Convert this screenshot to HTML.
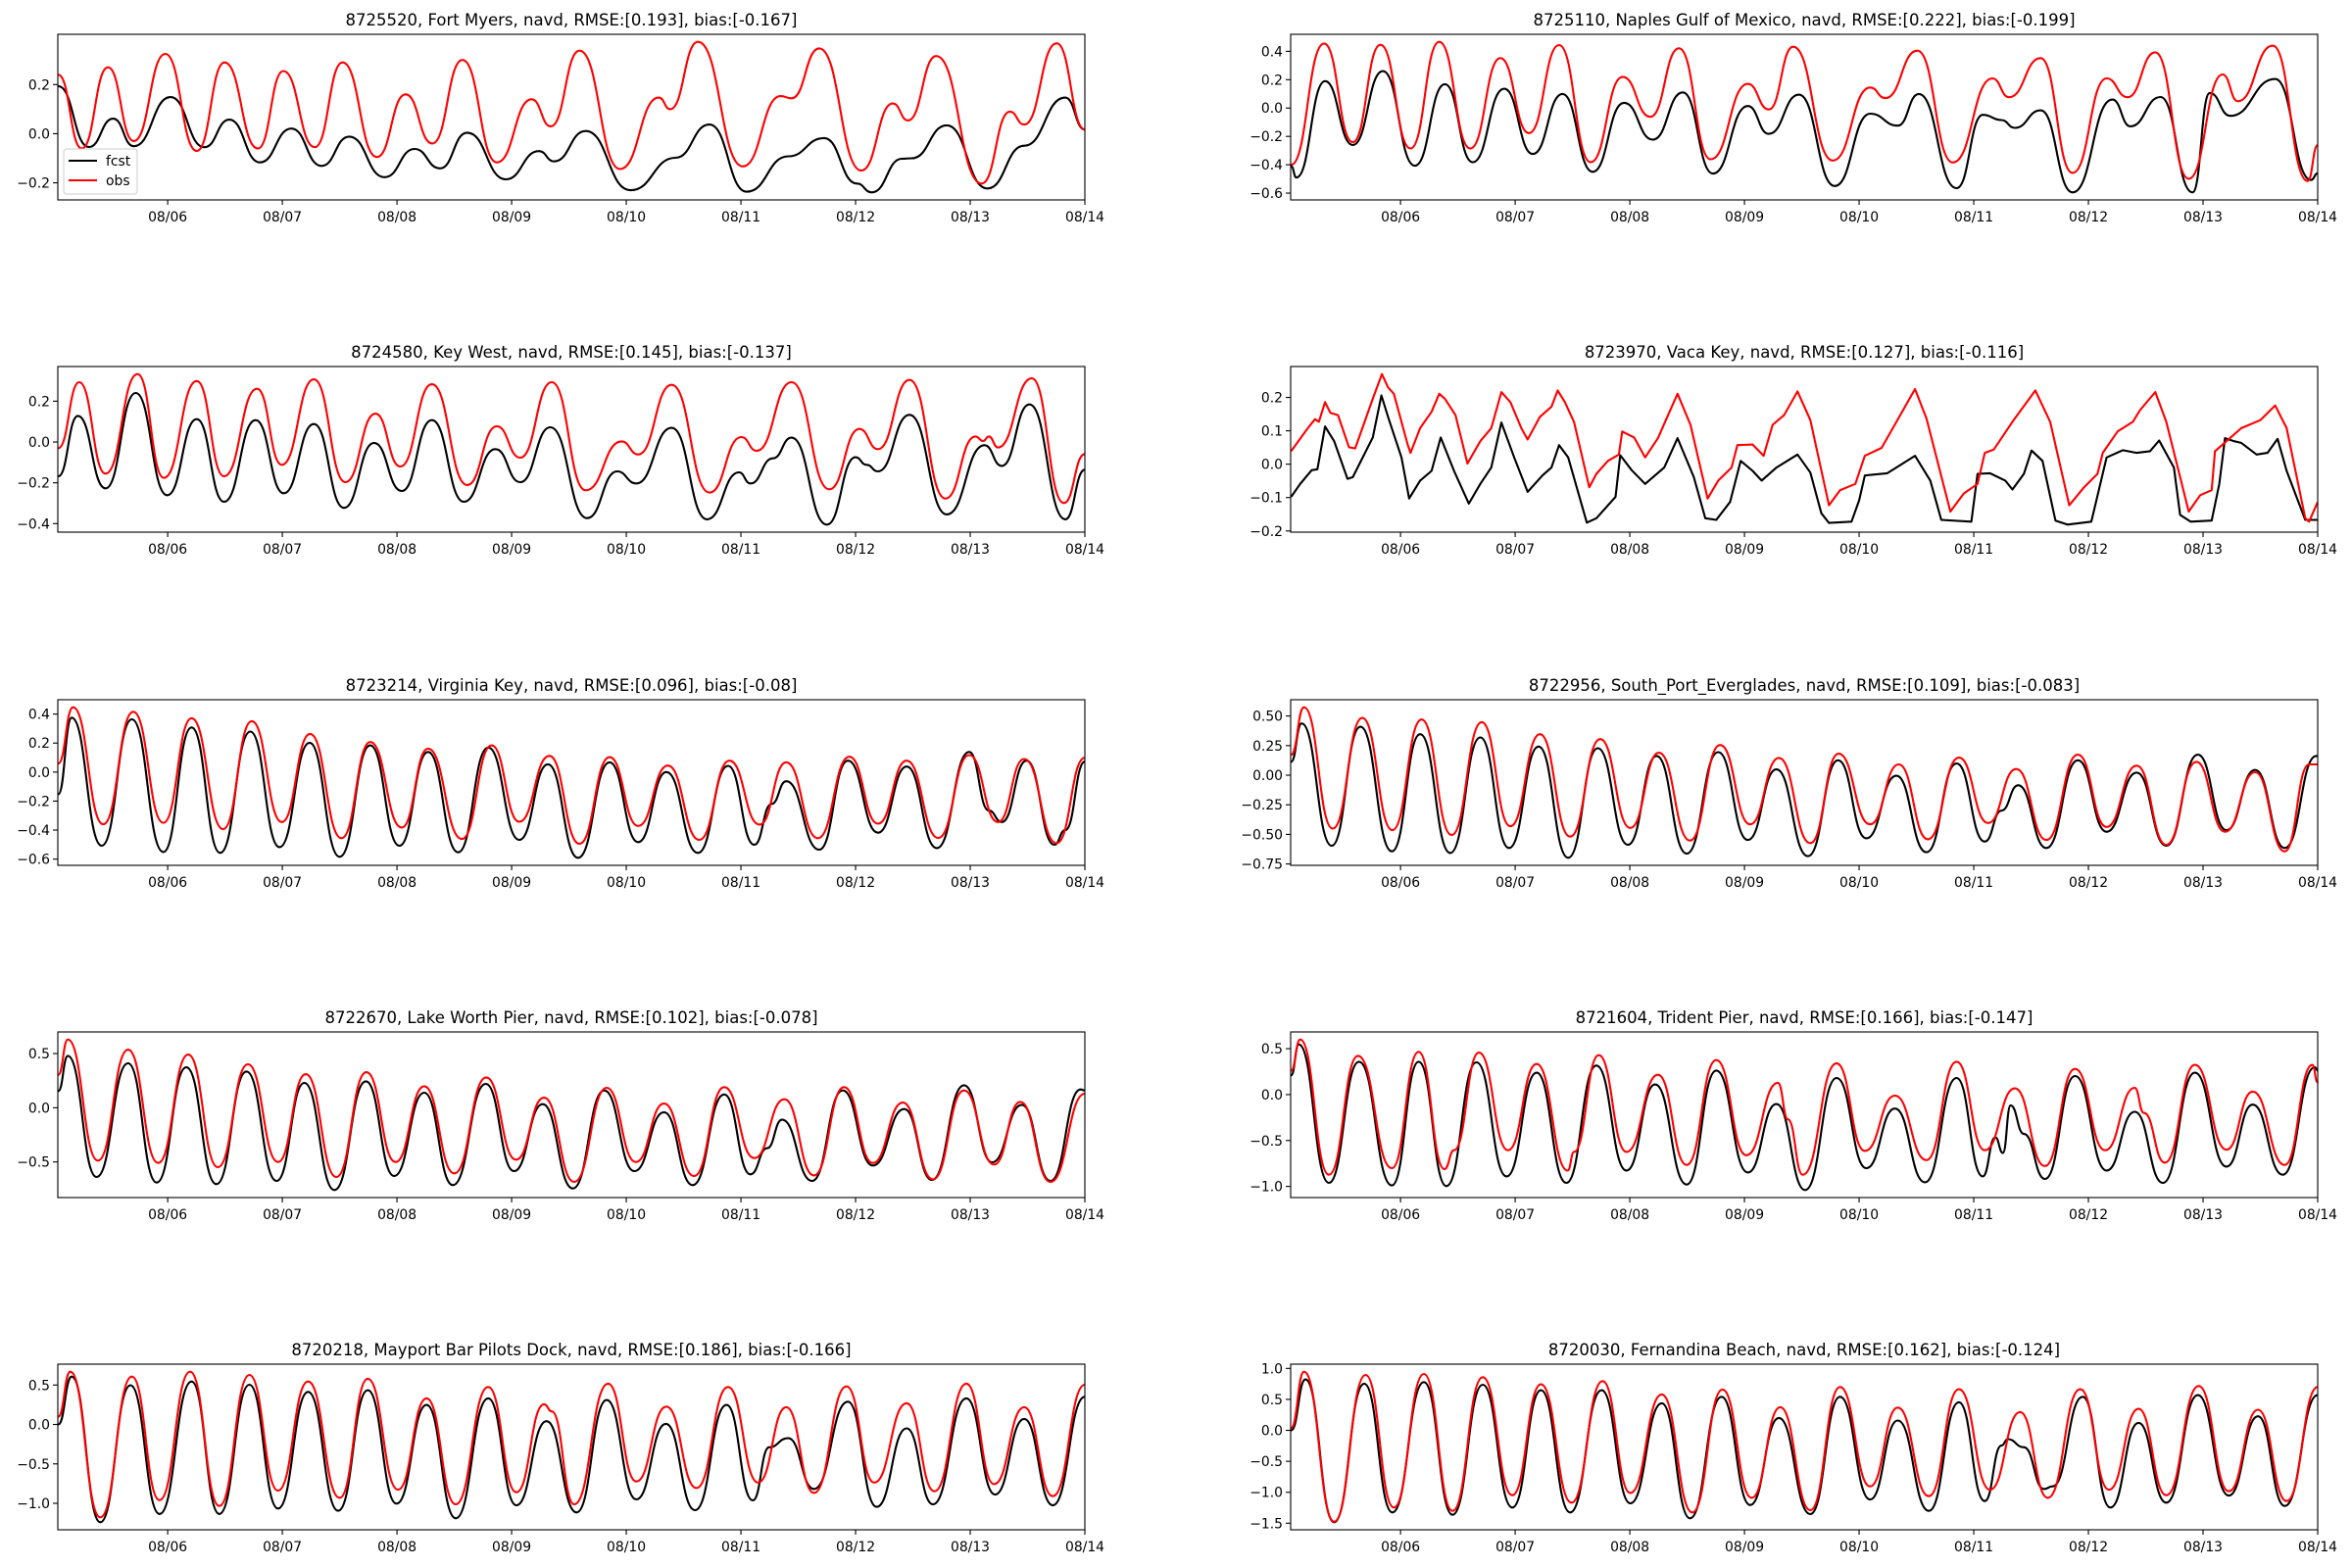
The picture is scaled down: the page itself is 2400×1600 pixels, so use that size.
<!DOCTYPE html>
<html><head><meta charset="utf-8"><title>Water level forecast vs. observation</title>
<style>
html,body{margin:0;padding:0;background:#fff;}
svg{display:block;}
text{font-family:"DejaVu Sans","Liberation Sans",sans-serif;fill:#000;}
</style></head>
<body>
<svg id="fig" width="2400" height="1600" viewBox="0 0 2400 1600" xmlns="http://www.w3.org/2000/svg"></svg>
<script>
// time in hours since 08/05 00:00 ; values in m (navd)
const xTickHours = [24,48,72,96,120,144,168,192,216];
const xTickLabels = ["08/06","08/07","08/08","08/09","08/10","08/11","08/12","08/13","08/14"];

const p1_obs = [[1.1,0.24],[6,-0.06],[11.5,0.27],[16.9,-0.03],[23.5,0.325],[30.1,-0.07],[35.9,0.29],[42.9,-0.06],[48.2,0.255],[54.8,-0.055],[60.6,0.29],[67.8,-0.095],[73.8,0.16],[79.4,-0.04],[85.7,0.30],[92.9,-0.117],[100.2,0.14],[104.2,0.03],[110.2,0.338],[118.7,-0.144],[126.8,0.147],[129.2,0.10],[135,0.374],[144.4,-0.133],[152.3,0.153],[154.6,0.144],[160.4,0.347],[169.2,-0.15],[175.8,0.123],[179,0.054],[184.9,0.316],[194.4,-0.203],[200.3,0.09],[203.3,0.037],[210.1,0.368],[216,0.017]];
const p1_fcst = [[1.1,0.193],[7.5,-0.054],[12.6,0.061],[16.9,-0.051],[24.6,0.149],[31.7,-0.055],[36.9,0.057],[43.3,-0.117],[49.9,0.021],[56.2,-0.131],[62,-0.012],[69.4,-0.177],[75.7,-0.062],[81,-0.141],[86.7,0.004],[94.8,-0.186],[101.7,-0.071],[104.9,-0.113],[111.5,0.011],[120.9,-0.23],[130.3,-0.098],[137.4,0.037],[145.2,-0.236],[153.9,-0.092],[161.4,-0.018],[168.3,-0.203],[171.4,-0.239],[177.7,-0.102],[179.8,-0.1],[187.1,0.034],[195.6,-0.223],[203.3,-0.049],[211.9,0.147],[216,0.017]];

const p2_obs = [[1.1,-0.40],[8,0.455],[14,-0.24],[19.8,0.446],[26.1,-0.285],[32.1,0.467],[38.6,-0.285],[44.9,0.352],[50.9,-0.177],[57.2,0.444],[63.8,-0.382],[70.5,0.22],[76.3,-0.062],[82.3,0.421],[88.9,-0.361],[96.7,0.17],[101.1,-0.01],[106.2,0.432],[114.5,-0.37],[122.3,0.145],[125.5,0.07],[132.2,0.405],[139.6,-0.384],[147.9,0.209],[151.4,0.076],[158,0.352],[164.7,-0.457],[171.8,0.209],[176.2,0.076],[182,0.393],[189,-0.499],[196.1,0.237],[199.3,0.048],[206.6,0.44],[213.9,-0.515],[216,-0.262]];
const p2_fcst = [[1.1,-0.41],[2.2,-0.49],[8.2,0.19],[14,-0.26],[20.3,0.26],[27,-0.407],[33.3,0.168],[39.1,-0.382],[45.7,0.136],[51.7,-0.324],[57.9,0.099],[64.2,-0.45],[70.8,0.037],[76.8,-0.223],[83.1,0.11],[89.4,-0.462],[96.7,0.014],[101.1,-0.182],[107.4,0.094],[114.9,-0.55],[122.3,-0.04],[128.1,-0.124],[132.5,0.099],[140.4,-0.565],[145.9,-0.048],[149.8,-0.085],[152.6,-0.14],[158,-0.016],[164.7,-0.595],[173,0.06],[176.8,-0.129],[183.1,0.078],[189.8,-0.595],[193.4,0.106],[197.7,-0.055],[207.1,0.205],[214.6,-0.508],[216,-0.46]];

const p3_obs = [[1.1,-0.03],[5.5,0.293],[11,-0.155],[17.7,0.333],[23.2,-0.176],[30.1,0.299],[35.8,-0.168],[42.7,0.261],[47.9,-0.112],[54.6,0.307],[61.2,-0.197],[67.5,0.139],[72.7,-0.12],[79.3,0.283],[86.7,-0.211],[92.9,0.077],[97.8,-0.077],[104.4,0.293],[111.5,-0.237],[119,0.003],[122.5,-0.061],[129.5,0.28],[137.4,-0.248],[144.1,0.024],[147.3,-0.043],[154.6,0.293],[162.5,-0.232],[168.8,0.064],[172.7,-0.035],[179.3,0.304],[186.8,-0.277],[193.1,0.027],[194.7,0.005],[195.9,0.027],[197.8,-0.027],[204.9,0.312],[211.6,-0.299],[216,-0.059]];
const p3_fcst = [[1.1,-0.168],[5.2,0.128],[11,-0.227],[17.3,0.24],[23.9,-0.261],[30.1,0.112],[35.8,-0.293],[42.4,0.107],[48.3,-0.251],[54.6,0.088],[60.9,-0.323],[67.2,-0.005],[73,-0.24],[79.3,0.107],[86,-0.293],[92.6,-0.035],[97.8,-0.197],[104.1,0.072],[111.8,-0.373],[118.1,-0.144],[122.1,-0.203],[129.5,0.069],[136.9,-0.379],[143.6,-0.149],[146,-0.203],[150.7,-0.08],[154.6,0.021],[162,-0.405],[168,-0.075],[170.3,-0.112],[172.7,-0.144],[179.3,0.133],[187.1,-0.355],[195,-0.016],[198.6,-0.117],[204.4,0.184],[211.9,-0.379],[216,-0.136]];

const p4_obs = [[1.1,0.039],[4.6,0.108],[6.1,0.135],[6.9,0.127],[8.2,0.186],[9.3,0.154],[10.9,0.147],[13.2,0.051],[14.5,0.047],[17.1,0.152],[18.2,0.196],[20.1,0.27],[21.4,0.23],[22.6,0.211],[25.5,0.059],[26.1,0.034],[28.1,0.108],[30.5,0.157],[32.1,0.211],[33.3,0.196],[35.5,0.147],[38,0.002],[40.7,0.069],[43,0.108],[45.1,0.216],[47,0.186],[49.3,0.108],[50.6,0.074],[53.2,0.142],[55.6,0.172],[56.9,0.221],[58.4,0.186],[60.3,0.127],[63.5,-0.069],[65,-0.029],[67.4,0.01],[69.7,0.029],[70.4,0.098],[72.9,0.08],[75.2,0.02],[77.9,0.078],[80,0.147],[82,0.211],[84.7,0.118],[88.3,-0.103],[90.5,-0.049],[93.3,-0.01],[94.5,0.057],[97.7,0.059],[100,0.025],[101.9,0.118],[104.3,0.147],[107.1,0.218],[109.8,0.132],[113.7,-0.123],[116,-0.078],[119.2,-0.059],[121.2,0.025],[124.7,0.049],[128.6,0.147],[131.7,0.225],[134.1,0.137],[139.1,-0.142],[141.9,-0.088],[144.8,-0.059],[146.3,0.034],[148.2,0.044],[152.1,0.127],[156.9,0.221],[160,0.127],[164,-0.123],[167.1,-0.069],[169.9,-0.029],[171,0.034],[174.1,0.098],[177.3,0.127],[178.8,0.162],[182,0.216],[184.3,0.127],[189,-0.142],[191.4,-0.093],[193.8,-0.078],[194.5,0.039],[196.9,0.069],[200,0.108],[204,0.132],[207.1,0.176],[209.5,0.108],[213.4,-0.162],[214.2,-0.172],[216,-0.113]];
const p4_fcst = [[1.1,-0.098],[3,-0.059],[5.4,-0.018],[6.6,-0.015],[8.2,0.113],[10.1,0.069],[12.9,-0.044],[14,-0.039],[18.2,0.08],[20,0.206],[21.5,0.137],[24.2,0.02],[25.8,-0.103],[28.1,-0.049],[30.5,-0.02],[32.4,0.08],[35.2,-0.02],[38.3,-0.118],[40.7,-0.059],[43,-0.01],[45.1,0.125],[47.8,0.02],[50.6,-0.083],[53.7,-0.034],[55.6,-0.01],[57.2,0.057],[59.1,0.02],[63,-0.175],[65,-0.162],[69,-0.098],[70,0.027],[72.4,-0.018],[75.2,-0.059],[79.2,-0.01],[82,0.078],[85.4,-0.039],[87.8,-0.162],[90.1,-0.167],[93,-0.113],[95.2,0.01],[97.7,-0.02],[99.6,-0.049],[102.7,-0.01],[107.1,0.029],[109.8,-0.025],[112.1,-0.147],[113.7,-0.176],[118.4,-0.172],[120,-0.108],[121.2,-0.034],[125.9,-0.027],[131.7,0.025],[134.9,-0.049],[137.2,-0.167],[143.5,-0.172],[144.8,-0.029],[147.4,-0.027],[150.6,-0.049],[152.1,-0.076],[154.5,-0.029],[156.1,0.041],[158.4,0.01],[161.1,-0.169],[163.6,-0.181],[168.6,-0.172],[171.8,0.02],[175.2,0.042],[178.1,0.034],[180.9,0.039],[182.8,0.071],[185.9,-0.01],[187.2,-0.152],[189.4,-0.172],[193.8,-0.169],[195.4,-0.059],[196.6,0.078],[198.5,0.069],[200,0.064],[203.2,0.029],[205.5,0.034],[207.6,0.076],[209.5,-0.02],[213.4,-0.167],[216,-0.167]];

const p5_obs = [[1.1,0.06],[4.2,0.447],[10.5,-0.36],[16.8,0.416],[23.1,-0.35],[29,0.371],[35.6,-0.393],[41.6,0.351],[47.9,-0.344],[53.8,0.263],[60.4,-0.456],[66.4,0.207],[73,-0.382],[78.5,0.162],[85.6,-0.461],[91.8,0.184],[97.6,-0.342],[103.9,0.112],[110.2,-0.494],[116.5,0.103],[122.5,-0.371],[128.7,0.045],[135.3,-0.467],[141.6,0.079],[147.9,-0.362],[153.5,0.067],[160.1,-0.456],[166.7,0.106],[172.7,-0.355],[178.7,0.079],[185.3,-0.454],[191.8,0.117],[197.8,-0.344],[203.3,0.09],[210.1,-0.49],[216,0.099]];
const p5_fcst = [[1.1,-0.153],[3.9,0.375],[10.2,-0.508],[16.5,0.364],[23.1,-0.551],[29,0.308],[35,-0.557],[41.3,0.279],[47.4,-0.517],[53.7,0.202],[60,-0.584],[66.4,0.184],[72.5,-0.508],[78.5,0.139],[84.8,-0.553],[91.1,0.169],[97.6,-0.467],[103.6,0.054],[109.9,-0.591],[116.5,0.067],[122.5,-0.483],[128.4,0],[135,-0.557],[141.3,0.043],[146.8,-0.501],[150.4,-0.22],[153.5,-0.063],[160.4,-0.535],[166.4,0.079],[172.7,-0.418],[178.7,0.038],[185,-0.524],[191.8,0.139],[195.9,-0.265],[198.6,-0.344],[203.8,0.079],[209.6,-0.501],[211.9,-0.40],[216,0.072]];

const p6_obs = [[1.1,0.173],[3.8,0.574],[9.8,-0.451],[16,0.484],[22.3,-0.464],[28.4,0.47],[34.7,-0.505],[41,0.448],[47,-0.431],[53.2,0.346],[59.5,-0.519],[65.8,0.305],[72.1,-0.445],[78.1,0.19],[84.6,-0.552],[90.9,0.255],[97.2,-0.415],[103.2,0.146],[109.8,-0.574],[115.7,0.181],[122.3,-0.415],[128.3,0.091],[134.4,-0.541],[140.9,0.148],[147,-0.404],[152.9,0.052],[159.2,-0.547],[165.8,0.173],[171.8,-0.437],[178.1,0.08],[184.3,-0.588],[190.6,0.113],[196.6,-0.478],[202.9,0.025],[209.1,-0.643],[214.2,0.091],[216,0.091]];
const p6_fcst = [[1.1,0.113],[3.3,0.437],[9.6,-0.596],[15.6,0.409],[22.2,-0.643],[28.1,0.346],[34.4,-0.657],[40.7,0.319],[46.7,-0.615],[52.9,0.242],[59.1,-0.698],[65.3,0.228],[71.6,-0.588],[77.6,0.162],[83.9,-0.662],[90.5,0.195],[96.7,-0.547],[102.7,0.049],[109.3,-0.684],[115.6,0.126],[121.5,-0.533],[127.8,-0.005],[134.1,-0.651],[140.4,0.099],[146.3,-0.56],[149.8,-0.3],[153.3,-0.085],[159.2,-0.615],[165.8,0.126],[171.8,-0.478],[178.1,0.022],[184.3,-0.596],[190.9,0.173],[196.9,-0.464],[202.9,0.044],[209.1,-0.615],[215.7,0.162],[216,0.162]];

const p7_obs = [[1.1,0.304],[3.1,0.63],[9.4,-0.488],[15.7,0.536],[22,-0.509],[28.3,0.491],[34.5,-0.548],[40.8,0.401],[47.1,-0.5],[52.9,0.31],[59.3,-0.639],[65.6,0.328],[71.7,-0.5],[77.7,0.199],[84,-0.605],[90.7,0.28],[96.9,-0.479],[102.8,0.093],[109.1,-0.684],[115.9,0.184],[122,-0.5],[127.9,0.039],[134.2,-0.63],[140.5,0.19],[146.8,-0.464],[153.1,0.078],[159.3,-0.624],[165.6,0.19],[171.6,-0.509],[177.9,0.048],[184.2,-0.66],[190.7,0.16],[197,-0.524],[202.5,0.054],[208.8,-0.684],[216,0.13]];
const p7_fcst = [[1.1,0.154],[3.1,0.479],[9.1,-0.639],[15.7,0.41],[21.7,-0.69],[27.9,0.373],[34.2,-0.705],[40.5,0.334],[46.8,-0.675],[52.6,0.229],[58.9,-0.759],[65.5,0.244],[71.4,-0.63],[77.7,0.139],[83.7,-0.714],[90.6,0.22],[96.5,-0.584],[102.5,0.033],[108.8,-0.744],[115.4,0.16],[121.7,-0.584],[127.9,-0.042],[133.9,-0.714],[140.5,0.123],[146,-0.614],[149.5,-0.373],[152.6,-0.111],[158.9,-0.675],[165.3,0.16],[171.6,-0.533],[178.2,-0.012],[184,-0.666],[190.7,0.208],[196.6,-0.503],[202.8,0.027],[208.8,-0.675],[215.1,0.169],[216,0.16]];

const p8_obs = [[1.1,0.262],[3,0.6],[9,-0.872],[15.1,0.422],[22.2,-0.801],[27.8,0.465],[33.2,-0.812],[35.2,-0.606],[40.4,0.457],[46.5,-0.606],[52.5,0.333],[59,-0.826],[60.3,-0.624],[65.5,0.429],[71.3,-0.624],[77.9,0.216],[83.9,-0.766],[90.1,0.376],[96.4,-0.66],[103,0.128],[105.1,-0.27],[108.2,-0.872],[115.3,0.34],[121.2,-0.613],[127.5,-0.011],[134.1,-0.713],[140.4,0.358],[146.3,-0.606],[152.6,0.067],[158.9,-0.777],[165.2,0.28],[171.5,-0.606],[177.7,0.074],[179.6,-0.199],[184,-0.741],[190.3,0.323],[196.9,-0.599],[202.4,0.032],[209.1,-0.766],[214.9,0.323],[216,0.131]];
const p8_fcst = [[1.1,0.209],[2.7,0.546],[9,-0.961],[15.3,0.358],[22.2,-0.989],[27.8,0.358],[33.6,-0.996],[39.9,0.351],[46.2,-0.89],[52.5,0.238],[58.7,-0.961],[65,0.316],[71.3,-0.826],[77.3,0.11],[83.9,-0.979],[90.1,0.262],[96.7,-0.848],[102.7,-0.103],[108.7,-1.039],[115.3,0.181],[121.5,-0.801],[127.5,-0.152],[133.8,-0.954],[140.4,0.181],[145.9,-0.89],[148.5,-0.465],[150.1,-0.635],[151.7,-0.117],[154.5,-0.429],[158.9,-0.918],[165.2,0.202],[171.8,-0.826],[177.7,-0.188],[183.6,-0.961],[190.3,0.238],[196.9,-0.784],[202.4,-0.11],[208.7,-0.872],[215.4,0.298],[216,0.262]];

const p9_obs = [[1.1,0.1],[3.6,0.669],[9.9,-1.178],[16.5,0.607],[22.3,-0.959],[28.7,0.669],[34.8,-1.033],[41.1,0.628],[47.1,-0.839],[53.4,0.545],[60,-0.93],[65.9,0.579],[72.2,-0.826],[78.2,0.331],[84.3,-1.012],[91.1,0.475],[97,-0.86],[102.8,0.256],[104.4,0.165],[109.1,-1.012],[116.2,0.517],[122.1,-0.723],[128.4,0.227],[134.7,-0.806],[141.3,0.475],[147.6,-0.736],[153.5,0.219],[159.3,-0.868],[166.1,0.483],[171.9,-0.736],[178.7,0.269],[184.5,-0.847],[191.2,0.517],[197,-0.756],[203.3,0.219],[209.3,-0.909],[216,0.504]];
const p9_fcst = [[1.1,0],[3.9,0.607],[9.9,-1.24],[16.2,0.496],[22.3,-1.136],[29,0.545],[34.8,-1.136],[41.1,0.504],[47.1,-1.066],[53.4,0.413],[59.7,-1.095],[65.9,0.434],[71.9,-1.004],[78.2,0.248],[84.3,-1.19],[91.1,0.331],[97,-1.025],[103.3,0.041],[109.6,-1.116],[115.9,0.31],[122.1,-0.95],[128.3,0.008],[134.4,-1.087],[141,0.248],[146.5,-0.963],[149.9,-0.289],[153.9,-0.174],[159.3,-0.818],[166.4,0.289],[172.4,-1.045],[178.7,-0.05],[184.2,-1.012],[191.2,0.331],[197.2,-0.888],[203.3,0.07],[209.3,-1.025],[216,0.351]];

const p10_obs = [[1.1,0.04],[3.8,0.947],[10.1,-1.474],[16.7,0.895],[22.6,-1.247],[28.9,0.911],[34.9,-1.3],[41.2,0.858],[47.4,-1.047],[53.4,0.742],[59.8,-1.168],[66.3,0.795],[72.1,-1.011],[78.7,0.579],[85.1,-1.326],[91.4,0.658],[97.5,-1.089],[103.5,0.374],[109.8,-1.289],[116,0.7],[122.3,-0.905],[128.1,0.368],[134.6,-1.063],[140.9,0.663],[147.4,-0.958],[153.7,0.295],[159.5,-1.089],[166.3,0.663],[172.3,-0.958],[178.5,0.347],[184.3,-1.047],[191.1,0.716],[197.4,-0.984],[203.5,0.332],[209.5,-1.142],[216,0.7]];
const p10_fcst = [[1.1,0],[4.1,0.821],[10.1,-1.484],[16.4,0.753],[22.3,-1.326],[28.9,0.779],[34.9,-1.363],[41.2,0.737],[47.4,-1.247],[53.4,0.647],[59.5,-1.326],[66.1,0.647],[72.1,-1.179],[78.7,0.437],[84.6,-1.421],[91.2,0.542],[97.2,-1.205],[103.2,0.2],[109.8,-1.353],[116,0.542],[122.3,-1.116],[128.1,0.158],[134.6,-1.3],[140.9,0.453],[146.3,-1.142],[149.8,-0.247],[151.1,-0.142],[154.5,-0.274],[158.7,-0.947],[160.5,-0.905],[166.8,0.542],[172.6,-1.247],[178.5,0.121],[184.3,-1.168],[190.9,0.568],[197.4,-1.053],[203.5,0.226],[209.1,-1.221],[216,0.568]];

const titles = ["8725520, Fort Myers, navd, RMSE:[0.193], bias:[-0.167]","8725110, Naples Gulf of Mexico, navd, RMSE:[0.222], bias:[-0.199]","8724580, Key West, navd, RMSE:[0.145], bias:[-0.137]","8723970, Vaca Key, navd, RMSE:[0.127], bias:[-0.116]","8723214, Virginia Key, navd, RMSE:[0.096], bias:[-0.08]","8722956, South_Port_Everglades, navd, RMSE:[0.109], bias:[-0.083]","8722670, Lake Worth Pier, navd, RMSE:[0.102], bias:[-0.078]","8721604, Trident Pier, navd, RMSE:[0.166], bias:[-0.147]","8720218, Mayport Bar Pilots Dock, navd, RMSE:[0.186], bias:[-0.166]","8720030, Fernandina Beach, navd, RMSE:[0.162], bias:[-0.124]"];
const yTicks1 = [-0.2,0,0.2];
const yTicks2 = [-0.6,-0.4,-0.2,0,0.2,0.4];
const yTicks3 = [-0.4,-0.2,0,0.2];
const yTicks4 = [-0.2,-0.1,0,0.1,0.2];
const yTicks5 = [-0.6,-0.4,-0.2,0,0.2,0.4];
const yTicks6 = [-0.75,-0.5,-0.25,0,0.25,0.5];
const yTicks7 = [-0.5,0,0.5];
const yTicks8 = [-1.0,-0.5,0,0.5];
const yTicks9 = [-1.0,-0.5,0,0.5];
const yTicks10 = [-1.5,-1.0,-0.5,0,0.5,1.0];
const yDecimals = [1,1,1,1,1,2,1,1,1,1];

const panels = [
 {obs:p1_obs,fcst:p1_fcst,ticks:yTicks1,smooth:true},
 {obs:p2_obs,fcst:p2_fcst,ticks:yTicks2,smooth:true},
 {obs:p3_obs,fcst:p3_fcst,ticks:yTicks3,smooth:true},
 {obs:p4_obs,fcst:p4_fcst,ticks:yTicks4,smooth:false},
 {obs:p5_obs,fcst:p5_fcst,ticks:yTicks5,smooth:true},
 {obs:p6_obs,fcst:p6_fcst,ticks:yTicks6,smooth:true},
 {obs:p7_obs,fcst:p7_fcst,ticks:yTicks7,smooth:true},
 {obs:p8_obs,fcst:p8_fcst,ticks:yTicks8,smooth:true},
 {obs:p9_obs,fcst:p9_fcst,ticks:yTicks9,smooth:true},
 {obs:p10_obs,fcst:p10_fcst,ticks:yTicks10,smooth:true}
];

const NS = "http://www.w3.org/2000/svg";
const fig = document.getElementById('fig');
function mk(tag, attrs, parent){
  const e = document.createElementNS(NS, tag);
  for (const k in attrs) e.setAttribute(k, attrs[k]);
  (parent||fig).appendChild(e);
  return e;
}
const colX = [59, 1317], axW = 1048, axH = 169;
const rowY = [35, 374, 714, 1053, 1392];
const T0 = 1.0, T1 = 216;
function fmt(v, d){ const s = Math.abs(v).toFixed(d); return (v < -1e-9 ? "\u2212" : "") + s; }

panels.forEach((p, i) => {
  const x0 = colX[i % 2], y0 = rowY[Math.floor(i / 2)];
  const g = mk('g', {});
  
  
  const all = p.obs.concat(p.fcst).map(d => d[1]);
  let lo = Math.min(...all), hi = Math.max(...all);
  const m = (hi - lo) * 0.05; lo -= m; hi += m;
  const sx = t => x0 + (t - T0) / (T1 - T0) * axW;
  const sy = v => y0 + (hi - v) / (hi - lo) * axH;

  const title = mk('text', {x: x0 + axW / 2, y: y0 - 9, 'text-anchor': 'middle', 'font-size': '16.5'}, g);
  title.textContent = titles[i];
  
  

  const clipId = 'clip' + i;
  const cp = mk('clipPath', {id: clipId}, g);
  mk('rect', {x: x0, y: y0, width: axW, height: axH}, cp);

  function pathOf(data){
    let d = '';
    data.forEach((pt, k) => {
      const X = sx(pt[0]), Y = sy(pt[1]);
      if (k === 0) { d += 'M' + X.toFixed(1) + ' ' + Y.toFixed(1); return; }
      if (!p.smooth) { d += ' L' + X.toFixed(1) + ' ' + Y.toFixed(1); return; }
      const P = data[k - 1], PX = sx(P[0]), PY = sy(P[1]), h = (X - PX) / 2;
      d += ' C' + (PX + h).toFixed(1) + ' ' + PY.toFixed(1) + ' ' + (X - h).toFixed(1) + ' ' + Y.toFixed(1) + ' ' + X.toFixed(1) + ' ' + Y.toFixed(1);
    });
    return d;
  }
  const fl = mk('path', {d: pathOf(p.fcst), fill: 'none', stroke: '#000', 'stroke-width': '2.1', 'stroke-linejoin': 'round', 'clip-path': 'url(#' + clipId + ')'}, g);
  
  
  const ol = mk('path', {d: pathOf(p.obs), fill: 'none', stroke: '#ff0000', 'stroke-width': '2.1', 'stroke-linejoin': 'round', 'clip-path': 'url(#' + clipId + ')'}, g);
  
  

  const frame = mk('rect', {x: x0, y: y0, width: axW, height: axH, fill: 'none', stroke: '#000', 'stroke-width': '1.1'}, g);
  
  

  p.ticks.forEach(v => {
    const Y = sy(v);
    mk('line', {x1: x0 - 5, x2: x0, y1: Y, y2: Y, stroke: '#000', 'stroke-width': '1.1'}, g);
    const t = mk('text', {x: x0 - 8, y: Y + 5, 'text-anchor': 'end', 'font-size': '13.9'}, g);
    t.textContent = fmt(v, yDecimals[i]);
    
    
  });
  xTickHours.forEach((h, k) => {
    const X = sx(h);
    mk('line', {x1: X, x2: X, y1: y0 + axH, y2: y0 + axH + 5, stroke: '#000', 'stroke-width': '1.1'}, g);
    const t = mk('text', {x: X, y: y0 + axH + 22, 'text-anchor': 'middle', 'font-size': '13.9'}, g);
    t.textContent = xTickLabels[k];
    
    
  });

  if (i === 0) {
    const lg = mk('g', {}, g);
    
    
    mk('rect', {x: 65, y: 152, width: 75, height: 46, rx: 3, fill: '#fff', 'fill-opacity': '0.8', stroke: '#ccc', 'stroke-width': '1'}, lg);
    [['fcst', '#000', 164], ['obs', '#ff0000', 184]].forEach(e => {
      const en = mk('g', {}, lg);
      
      
      mk('line', {x1: 70, x2: 99, y1: e[2], y2: e[2], stroke: e[1], 'stroke-width': '2.1'}, en);
      const t = mk('text', {x: 108, y: e[2] + 5, 'font-size': '13.9'}, en);
      t.textContent = e[0];
    });
  }
});
</script>
</body></html>
